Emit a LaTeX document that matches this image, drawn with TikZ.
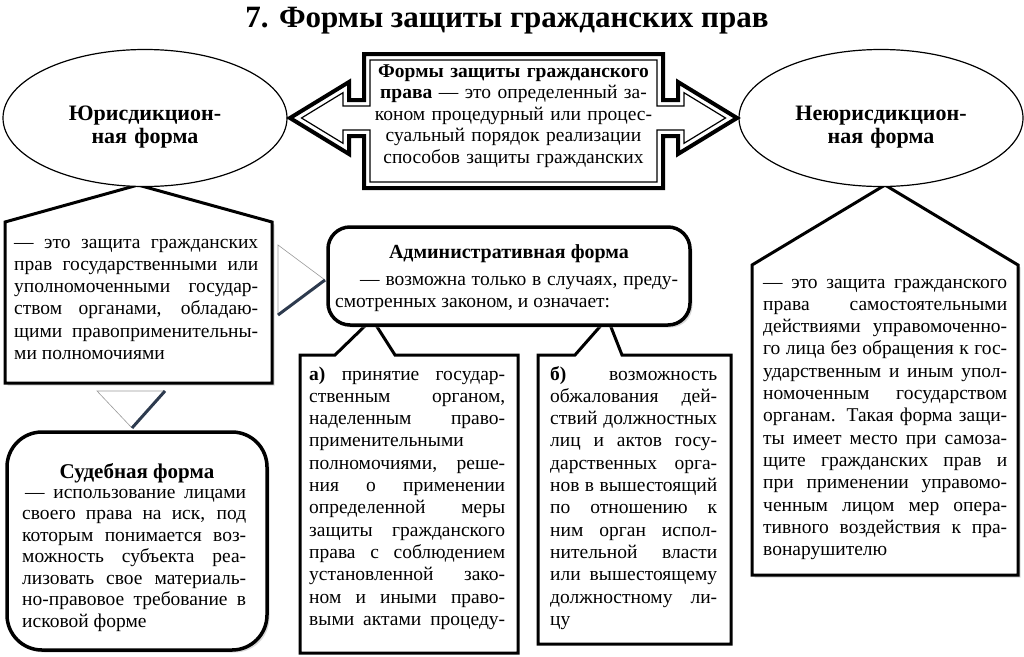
\documentclass[tikz,border=0pt]{standalone}
\usepackage{fontspec}
\setmainfont{Liberation Serif}
\usetikzlibrary{shapes.geometric,shadows}
\definecolor{edgeslate}{RGB}{45,58,78}
\tikzset{txt/.style={font=\fontsize{19.5}{22.3}\selectfont, inner sep=0pt, anchor=base west, align=justify},
heading/.style={font=\fontsize{20}{22}\selectfont\bfseries, inner sep=0pt, anchor=base},
boxframe/.style={draw=black, line width=3pt, fill=white, drop shadow={shadow xshift=2.5pt, shadow yshift=-2.5pt, fill=black!30}},
notebox/.style={draw=black, line width=3pt, fill=white},
oval/.style={ellipse, draw=black, line width=1.2pt, fill=white, minimum width=284pt, minimum height=137pt},
thinedge/.style={draw=black!40, line width=0.6pt},
darkedge/.style={draw=edgeslate, line width=3pt}}
% one justified line
\newcommand{\jl}[1]{\makebox[\hsize][s]{\spaceskip=0pt\xspaceskip=0pt #1}}

\begin{document}
\begin{tikzpicture}[x=1pt,y=-1pt]
\useasboundingbox (0,0) rectangle (1024,656);
% title
\node[heading, font=\fontsize{31}{33}\selectfont\bfseries] (title) at (507,27) {7. Формы защиты гражданских прав};

% pentagons under the ovals
\draw[boxframe] (5,222) -- (138,185) -- (272,222) -- (272,383) -- (5,383) -- cycle;
\draw[boxframe] (752,265) -- (885,185) -- (1018,265) -- (1018,575) -- (752,575) -- cycle;

% ovals
\node[oval] (jur) at (145,118) {};
\node[oval] (nonjur) at (881,118) {};
\node[heading, text width=220pt, align=center, font=\fontsize{22}{23}\selectfont\bfseries] (jurlbl) at (145,120) {Юрисдикцион-\\ная форма};
\node[heading, text width=220pt, align=center, font=\fontsize{22}{23}\selectfont\bfseries] (nonjurlbl) at (881,120) {Неюрисдикцион-\\ная форма};

% definition with double frame and two arrows
\draw[line width=4pt, fill=white] (364,54) -- (663,54) -- (663,100) -- (678,100) -- (678,82) -- (737,118)
  -- (678,154) -- (678,136) -- (663,136) -- (663,188) -- (364,188) -- (364,136) -- (349,136)
  -- (349,154) -- (290,118) -- (349,82) -- (349,100) -- (364,100) -- cycle;
\draw[line width=1.2pt] (370,60) -- (657,60) -- (657,106) -- (684,106) -- (684,92.7) -- (725.5,118)
  -- (684,143.3) -- (684,130) -- (657,130) -- (657,182) -- (370,182) -- (370,130) -- (343,130)
  -- (343,143.3) -- (301.5,118) -- (343,92.7) -- (343,106) -- (370,106) -- cycle;
\node[txt, anchor=base, text width=300pt, align=center, font=\fontsize{19.5}{21.5}\selectfont] (def) at (513.5,77)
  {\textbf{Формы защиты гражданского}\\\textbf{права} — это определенный за-\\коном процедурный или процес-\\суальный порядок реализации\\способов защиты гражданских};

% callouts a) and b)
\draw[notebox] (300,355) -- (335,355) -- (369,322) -- (374,322) -- (395,355) -- (518,355) -- (518,653) -- (300,653) -- cycle;
\draw[notebox] (538,355) -- (575,355) -- (604,322) -- (609,322) -- (622,355) -- (731,355) -- (731,644) -- (538,644) -- cycle;

% rounded boxes
\draw[boxframe, line width=3.5pt, rounded corners=22pt] (328,227) rectangle (690,325);
\draw[boxframe, line width=3.5pt, rounded corners=35pt] (7,432) rectangle (267,650);

% small triangles
\draw[thinedge] (278,315) -- (278,245) -- (325,280);
\draw[darkedge] (278,315) -- (325,280);
\draw[thinedge] (165,391) -- (97,391) -- (132,428);
\draw[darkedge] (132,428) -- (165,391);

% texts
\node[txt, text width=244pt] (jurtxt) at (14,248)
  {\jl{— это защита гражданских}\\\jl{прав государственными или}\\\jl{уполномоченными государ-}\\\jl{ством органами, обладаю-}\\\jl{щими правоприменительны-}\\ми полномочиями};
\node[txt, text width=244pt] (nonjurtxt) at (763,288)
  {\jl{— это защита гражданского}\\\jl{права самостоятельными}\\\jl{действиями управомоченно-}\\\jl{го лица без обращения к гос-}\\\jl{ударственным и иным упол-}\\\jl{номоченным государством}\\\jl{органам. Такая форма защи-}\\\jl{ты имеет место при самоза-}\\\jl{щите гражданских прав и}\\\jl{при применении управомо-}\\\jl{ченным лицом мер опера-}\\\jl{тивного воздействия к пра-}\\вонарушителю};
\node[heading] (admttl) at (509,258) {Административная форма};
\node[txt, text width=343pt] (admtxt) at (335,285)
  {\jl{\hspace*{25pt}— возможна только в случаях, преду-}\\смотренных законом, и означает:};
\node[txt, text width=196pt] (atxt) at (309,380)
  {\jl{\textbf{а)} принятие государ-}\\\jl{ственным органом,}\\\jl{наделенным право-}\\применительными\\\jl{полномочиями, реше-}\\\jl{ния о применении}\\\jl{определенной меры}\\\jl{защиты гражданского}\\\jl{права с соблюдением}\\\jl{установленной зако-}\\\jl{ном и иными право-}\\\jl{выми актами процеду-}};
\node[txt, text width=167pt] (btxt) at (550,380)
  {\jl{\textbf{б)} возможность}\\\jl{обжалования дей-}\\\jl{ствий должностных}\\\jl{лиц и актов госу-}\\\jl{дарственных орга-}\\\jl{нов в вышестоящий}\\\jl{по отношению к}\\\jl{ним орган испол-}\\\jl{нительной власти}\\\jl{или вышестоящему}\\\jl{должностному ли-}\\цу};
\node[heading, font=\fontsize{21}{23}\selectfont\bfseries] (courtttl) at (137,478) {Судебная форма};
\node[txt, text width=224pt, font=\fontsize{19.5}{21.5}\selectfont] (courttxt) at (22,498)
  {\jl{\hspace*{3pt}— использование лицами}\\\jl{своего права на иск, под}\\\jl{которым понимается воз-}\\\jl{можность субъекта реа-}\\\jl{лизовать свое материаль-}\\\jl{но-правовое требование в}\\исковой форме};
\end{tikzpicture}
\end{document}
